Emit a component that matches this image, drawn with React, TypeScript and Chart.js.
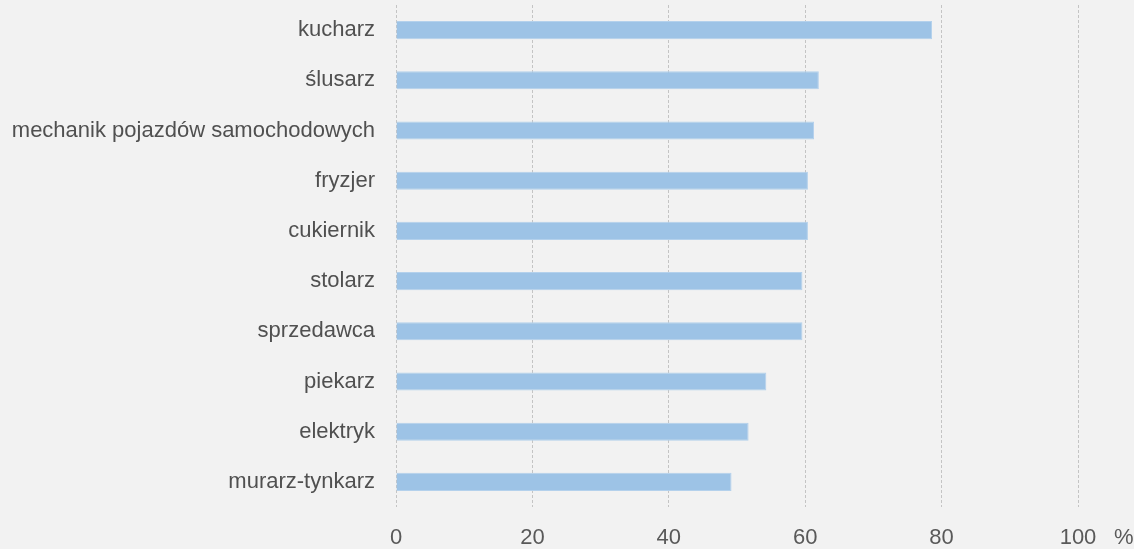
import React, { useEffect, useRef } from "react";
import { Chart, registerables } from "chart.js";

Chart.register(...registerables);

const categories = [
  "kucharz",
  "ślusarz",
  "mechanik pojazdów samochodowych",
  "fryzjer",
  "cukiernik",
  "stolarz",
  "sprzedawca",
  "piekarz",
  "elektryk",
  "murarz-tynkarz",
];
const values = [78.6, 62.0, 61.3, 60.4, 60.4, 59.6, 59.6, 54.3, 51.7, 49.2];
const xTicks = [0, 20, 40, 60, 80, 100];
const unitLabel = "%";

const FONT = "'Liberation Sans', 'DejaVu Sans', sans-serif";

export default function App() {
  const ref = useRef<HTMLCanvasElement | null>(null);
  useEffect(() => {
    if (!ref.current) return;
    const unitPlugin = {
      id: "unitPlugin",
      afterDraw(chart: any) {
        const ctx = chart.ctx;
        const xs = chart.scales.x;
        ctx.save();
        ctx.font = `22px ${FONT}`;
        ctx.fillStyle = "#595959";
        ctx.textAlign = "left";
        ctx.textBaseline = "middle";
        ctx.fillText(unitLabel, xs.getPixelForValue(100) + 36, 538);
        ctx.restore();
      },
    };
    const chart = new Chart(ref.current, {
      type: "bar",
      data: {
        labels: categories,
        datasets: [
          {
            data: values,
            backgroundColor: "#9dc3e6",
            borderColor: "#b4d1ec",
            borderWidth: 1,
            categoryPercentage: 1,
            barPercentage: 0.36,
          },
        ],
      },
      options: {
        indexAxis: "y",
        animation: false,
        responsive: false,
        maintainAspectRatio: false,
        layout: { padding: { top: 5, right: 56, left: 0, bottom: 0 } },
        plugins: { legend: { display: false }, tooltip: { enabled: false } },
        scales: {
          x: {
            min: 0,
            max: 100,
            afterBuildTicks: (s: any) => {
              s.ticks = xTicks.map((v) => ({ value: v }));
            },
            afterFit: (s: any) => {
              s.height = 42;
              s.paddingLeft = 0;
              s.paddingRight = 0;
            },
            border: { display: false, dash: [3, 2] },
            grid: {
              color: "#c4c4c4",
              lineWidth: 1,
              drawTicks: false,
            },
            ticks: {
              color: "#595959",
              padding: 18,
              font: { family: FONT, size: 22 },
              maxRotation: 0,
            },
          },
          y: {
            afterFit: (s: any) => {
              s.width = 396;
              s.paddingTop = 0;
              s.paddingBottom = 0;
            },
            border: { display: false },
            grid: { display: false, drawTicks: false },
            ticks: {
              color: "#505050",
              padding: 21,
              font: { family: FONT, size: 22 },
            },
          },
        },
      },
      plugins: [
        unitPlugin,
        {
          id: "bg",
          beforeDraw(chart: any) {
            const ctx = chart.ctx;
            ctx.save();
            ctx.fillStyle = "#f2f2f2";
            ctx.fillRect(0, 0, chart.width, chart.height);
            ctx.restore();
          },
        },
      ],
    } as any);
    return () => chart.destroy();
  }, []);
  return (
    <div style={{ position: "fixed", left: 0, top: 0, width: 1134, height: 549, background: "#f2f2f2" }}>
      <canvas ref={ref} width={1134} height={549} style={{ display: "block" }} />
    </div>
  );
}
